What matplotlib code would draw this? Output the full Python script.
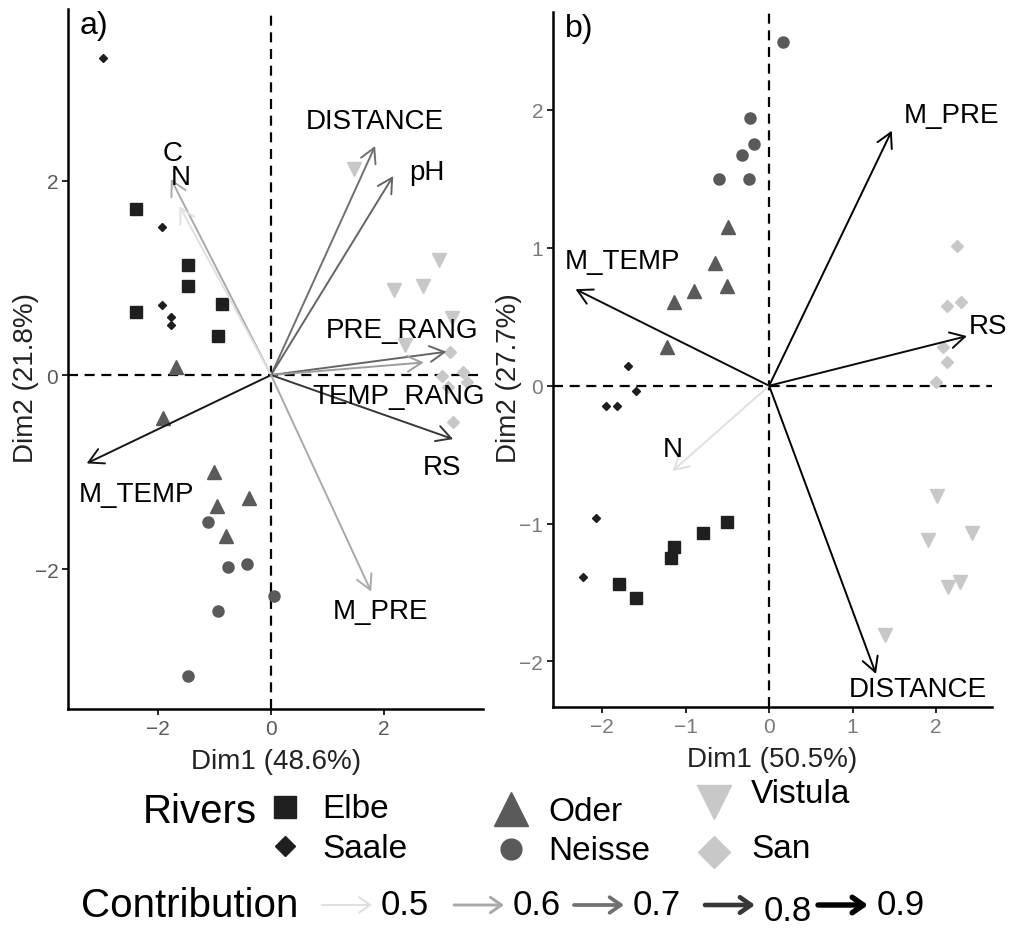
import matplotlib.pyplot as plt
from matplotlib.colors import LinearSegmentedColormap

plt.rcParams['font.family'] = ['Liberation Sans', 'DejaVu Sans']

rivers = ["Elbe", "Saale", "Oder", "Neisse", "Vistula", "San"]

# panel a) individual coordinates (Dim1, Dim2)
a_elbe = [[-2.39, 1.71], [-1.47, 1.13], [-1.47, 0.92], [-2.39, 0.65], [-0.87, 0.73], [-0.94, 0.40]]
a_saale = [[-2.97, 3.27], [-1.93, 1.52], [-1.93, 0.72], [-1.77, 0.60], [-1.77, 0.52]]
a_oder = [[-1.68, 0.08], [-1.91, -0.44], [-1.01, -1.00], [-0.39, -1.27], [-0.96, -1.35], [-0.80, -1.66]]
a_neisse = [[-1.12, -1.51], [-0.76, -1.98], [-0.42, -1.95], [0.05, -2.28], [-0.94, -2.43], [-1.47, -3.10]]
a_vistula = [[1.47, 2.12], [2.18, 0.88], [2.69, 0.92], [2.97, 1.18], [3.20, 0.59], [2.37, 0.31]]
a_san = [[3.17, 0.24], [3.03, -0.01], [3.40, 0.03], [3.47, -0.07], [3.13, -0.12], [3.22, -0.48]]

# panel b) individual coordinates (Dim1, Dim2)
b_elbe = [[-0.51, -0.99], [-0.79, -1.07], [-1.14, -1.17], [-1.17, -1.25], [-1.80, -1.44], [-1.60, -1.54]]
b_saale = [[-1.69, 0.14], [-1.60, -0.04], [-1.95, -0.15], [-1.82, -0.15], [-2.07, -0.96], [-2.23, -1.39]]
b_oder = [[-0.49, 1.15], [-0.65, 0.89], [-0.90, 0.69], [-0.50, 0.72], [-1.14, 0.61], [-1.22, 0.28]]
b_neisse = [[0.17, 2.49], [-0.23, 1.94], [-0.18, 1.75], [-0.32, 1.67], [-0.60, 1.50], [-0.24, 1.50]]
b_vistula = [[2.01, -0.80], [1.90, -1.12], [2.43, -1.07], [2.14, -1.46], [2.29, -1.42], [1.39, -1.81]]
b_san = [[2.25, 1.01], [2.13, 0.58], [2.30, 0.61], [2.08, 0.28], [2.13, 0.17], [2.00, 0.03]]

# variables (arrows)
a_vars = ["DISTANCE", "pH", "C", "N", "PRE_RANG", "TEMP_RANG", "RS", "M_TEMP", "M_PRE"]
a_var_dim1 = [1.84, 2.16, -1.77, -1.62, 3.10, 2.70, 3.22, -3.26, 1.77]
a_var_dim2 = [2.36, 2.05, 2.02, 1.74, 0.24, 0.13, -0.66, -0.91, -2.23]
a_contrib = [0.70, 0.72, 0.60, 0.50, 0.72, 0.62, 0.80, 0.86, 0.60]

b_vars = ["M_PRE", "M_TEMP", "RS", "N", "DISTANCE"]
b_var_dim1 = [1.47, -2.32, 2.37, -1.16, 1.28]
b_var_dim2 = [1.85, 0.70, 0.36, -0.62, -2.09]
b_contrib = [0.90, 0.88, 0.88, 0.50, 0.90]

contrib_breaks = [0.5, 0.6, 0.7, 0.8, 0.9]

# label offsets (points) for the arrow labels
a_label_off = [(0, 18), (24, 3), (1, 19), (1, 21), (-32, 16), (-18, -24), (-8, -20), (36, -22), (7, -14)]
b_label_off = [(43, 11), (34, 20), (15, 7), (0, 16), (30, -11)]

styles = {
    "Elbe": ('s', '#1f1f1f', 9),
    "Saale": ('D', '#1f1f1f', 4),
    "Oder": ('^', '#5a5a5a', 9.5),
    "Neisse": ('o', '#5a5a5a', 8),
    "Vistula": ('v', '#c8c8c8', 9.5),
    "San": ('D', '#c8c8c8', 6.5),
}
legend_ms = {"Elbe": 16, "Saale": 10, "Oder": 24, "Neisse": 15, "Vistula": 24, "San": 16}

grey = LinearSegmentedColormap.from_list("contrib", ['#e0e0e0', '#000000'])


def ccol(v):
    return grey((v - 0.5) / 0.4)


def draw_panel(ax, points, names, d1, d2, contrib, offsets, tag, xlim, ylim,
               xlab, ylab, tickcol):
    ax.axhline(0, color='black', ls=(0, (4.5, 3)), lw=1.6, zorder=1)
    ax.axvline(0, color='black', ls=(0, (4.5, 3)), lw=1.6, zorder=1)
    for river, pts in zip(rivers, points):
        m, c, s = styles[river]
        ax.plot([p[0] for p in pts], [p[1] for p in pts], ls='none',
                marker=m, ms=s, color=c, mec=c, zorder=2)
    for name, x, y, v, off in zip(names, d1, d2, contrib, offsets):
        ax.annotate('', xy=(x, y), xytext=(0, 0),
                    arrowprops=dict(arrowstyle='->,head_length=0.55,head_width=0.3',
                                    color=ccol(v), lw=1.4, shrinkA=0, shrinkB=0,
                                    mutation_scale=19), zorder=3)
        ax.annotate(name, xy=(x, y), xytext=off, textcoords='offset points',
                    ha='center', va='center', fontsize=20, zorder=4)
    ax.set_xlim(*xlim)
    ax.set_ylim(*ylim)
    for sp in ['top', 'right']:
        ax.spines[sp].set_visible(False)
    for sp in ['left', 'bottom']:
        ax.spines[sp].set_linewidth(1.8)
    ax.tick_params(length=4, width=1.2, labelsize=15, labelcolor=tickcol, pad=3)
    ax.set_xlabel(xlab, fontsize=20, color='#222222')
    ax.set_ylabel(ylab, fontsize=20, color='#222222')
    ax.xaxis.set_label_coords(0.5, -0.056)
    ax.yaxis.set_label_coords(-0.07, 0.475)
    ax.text(0.028, 0.998, tag, transform=ax.transAxes, ha='left', va='top', fontsize=23)


fig = plt.figure(figsize=(10.15, 9.29), dpi=100)

ax_a = fig.add_axes([0.067, 0.2357, 0.409, 0.7535])
draw_panel(ax_a, [a_elbe, a_saale, a_oder, a_neisse, a_vistula, a_san],
           a_vars, a_var_dim1, a_var_dim2, a_contrib, a_label_off, "a)",
           (-3.59, 3.75), (-3.44, 3.77), "Dim1 (48.6%)", "Dim2 (21.8%)", '#5a5a5a')
ax_a.set_xticks([-2, 0, 2])
ax_a.set_yticks([-2, 0, 2])

ax_b = fig.add_axes([0.5448, 0.2379, 0.4325, 0.748])
draw_panel(ax_b, [b_elbe, b_saale, b_oder, b_neisse, b_vistula, b_san],
           b_vars, b_var_dim1, b_var_dim2, b_contrib, b_label_off, "b)",
           (-2.59, 2.67), (-2.33, 2.71), "Dim1 (50.5%)", "Dim2 (27.7%)", '#7a7a7a')
ax_b.set_xticks([-2, -1, 0, 1, 2])
ax_b.set_yticks([-2, -1, 0, 1, 2])

# legend area in pixel coordinates
leg = fig.add_axes([0, 0, 1, 1])
leg.set_xlim(0, 1015)
leg.set_ylim(929, 0)
leg.axis('off')

leg.text(143, 812, "Rivers", fontsize=29, ha='left', va='center')
col_x = [285, 511, 714]
row_y = [[808, 847], [810, 850], [803, 853]]
text_y = [[810, 850], [813, 852], [795, 850]]
for i, river in enumerate(rivers):
    col, row = i // 2, i % 2
    m, c, s = styles[river]
    leg.plot([col_x[col]], [row_y[col][row]], ls='none', marker=m,
             ms=legend_ms[river], color=c, mec=c)
    leg.text(col_x[col] + 37, text_y[col][row], river, fontsize=24,
             ha='left', va='center')

leg.text(81, 906, "Contribution", fontsize=29, ha='left', va='center')
arrow_x = [322, 454, 574, 705, 818]
for v, x0 in zip(contrib_breaks, arrow_x):
    lw = 1.5 + (v - 0.5) * 6
    leg.annotate('', xy=(x0 + 50, 906), xytext=(x0, 906),
                 arrowprops=dict(arrowstyle='->,head_length=0.5,head_width=0.35',
                                 color=ccol(v), lw=lw, shrinkA=0, shrinkB=0,
                                 mutation_scale=16))
    ly = 912 if v == 0.8 else 906
    leg.text(x0 + 59, ly, f"{v:.1f}", fontsize=25, ha='left', va='center')

fig.savefig("out.png", dpi=100)
